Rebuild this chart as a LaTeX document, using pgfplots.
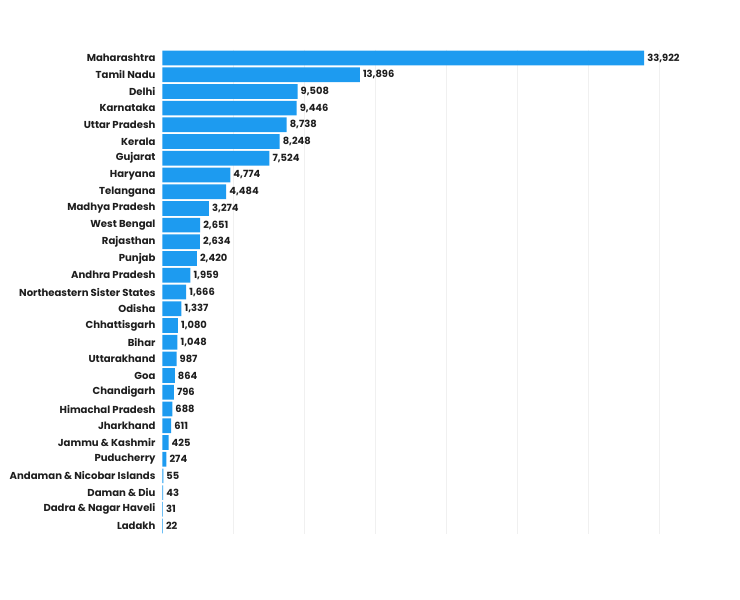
\documentclass[border=0pt]{standalone}
\usepackage{fontspec}
\setmainfont{Poppins}
\usepackage{pgfplots}
\usepackage{pgfplotstable}
\pgfplotsset{compat=1.18}
\definecolor{barblue}{RGB}{29,155,240}
\definecolor{txt}{RGB}{30,30,30}
\definecolor{gridc}{RGB}{240,240,240}

% row index (top to bottom), cases
\pgfplotstableread{
idx cases
0 33922
1 13896
2 9508
3 9446
4 8738
5 8248
6 7524
7 4774
8 4484
9 3274
10 2651
11 2634
12 2420
13 1959
14 1666
15 1337
16 1080
17 1048
18 987
19 864
20 796
21 688
22 611
23 425
24 274
25 55
26 43
27 31
28 22
}\states

\begin{document}
\begin{tikzpicture}
\useasboundingbox (0,0) rectangle (740pt,600pt);
\begin{axis}[
  at={(162.5pt,65.6pt)}, anchor=south west,
  scale only axis, width=497pt, height=484.8pt,
  xbar, bar width=0.88,
  xmin=0, xmax=35000, ymin=-0.5, ymax=28.5, y dir=reverse,
  axis line style={draw=none},
  major tick length=0pt,
  scaled x ticks=false,
  xtick={5000,10000,...,35000}, xticklabels={},
  xmajorgrids, grid style={gridc, line width=0.7pt},
  ytick={0,...,28},
  yticklabels={Maharashtra, Tamil Nadu, Delhi, Karnataka, Uttar Pradesh, Kerala, Gujarat, Haryana, Telangana, Madhya Pradesh, West Bengal, Rajasthan, Punjab, Andhra Pradesh, Northeastern Sister States, Odisha, Chhattisgarh, Bihar, Uttarakhand, Goa, Chandigarh, Himachal Pradesh, Jharkhand, Jammu \& Kashmir, Puducherry, Andaman \& Nicobar Islands, Daman \& Diu, Dadra \& Nagar Haveli, Ladakh},
  yticklabel style={font=\bfseries\fontsize{10.1}{11}\selectfont, text=txt, xshift=-3.5pt},
  /pgf/number format/assume math mode=true,
  point meta=x,
  nodes near coords={\pgfmathprintnumber[fixed,precision=0,1000 sep={,}]{\pgfplotspointmeta}},
  nodes near coords style={font=\bfseries\fontsize{9.9}{11}\selectfont, text=txt, anchor=west, inner sep=3pt},
]
\addplot[fill=barblue, draw=none] table[x=cases, y=idx] {\states};
\end{axis}
\end{tikzpicture}
\end{document}
